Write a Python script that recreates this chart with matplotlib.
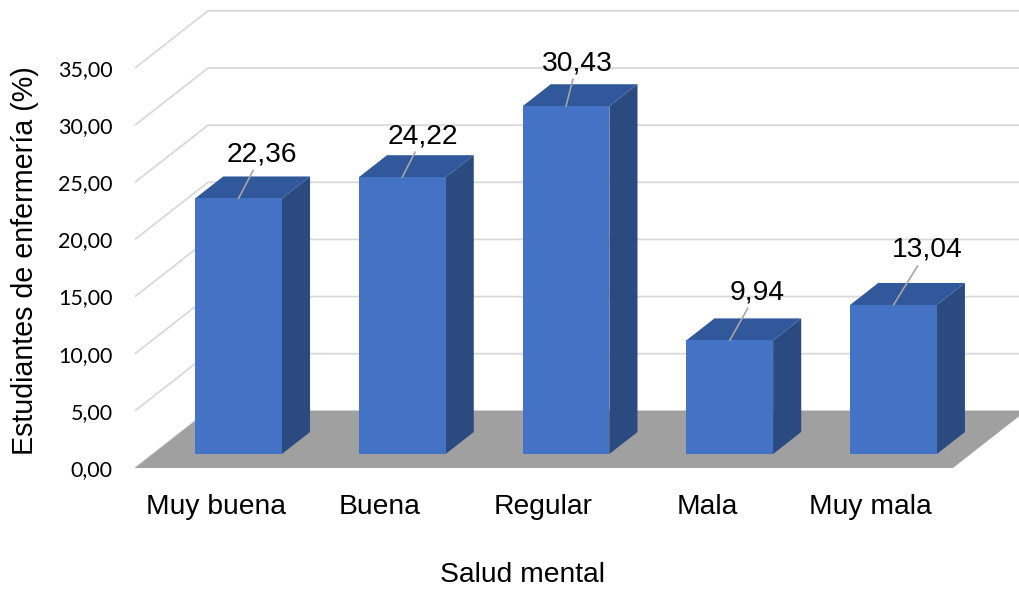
import matplotlib
matplotlib.use("Agg")
import matplotlib.pyplot as plt
from matplotlib.patches import Polygon, Rectangle
import numpy as np

# data
categories = ["Muy buena", "Buena", "Regular", "Mala", "Muy mala"]
values = [22.36, 24.22, 30.43, 9.94, 13.04]
yticks = [0, 5, 10, 15, 20, 25, 30, 35]

# where excel put each data label, pixels from the top of the front face
label_offsets = [(23, 44), (21, 41), (11, 43), (27, 48), (34, 55)]

FRONT = "#4472C4"
TOP = "#30589A"
SIDE = "#2A4A80"
FLOOR = "#A0A0A0"
GRID = "#D9D9D9"

# depth of the 3d box, in data units (x in categories, y in values)
DX = 0.446
DY = 5.0
d0, d1 = 0.245, 0.63   # bar front / back depth fraction
width = 0.53

fig = plt.figure(figsize=(10.19, 5.89), dpi=100)
ax = fig.add_axes([135 / 1019, (589 - 468) / 589, 818 / 1019, 400 / 589])
ax.set_xlim(-0.523, 4.473)
ax.set_ylim(0, 35)
for s in ax.spines.values():
    s.set_visible(False)
ax.tick_params(length=0)

x0, x1 = ax.get_xlim()

# gridlines: side wall diagonal + back wall horizontal
for v in yticks:
    ax.plot([x0, x0 + DX, 6], [v, v + DY, v + DY], color=GRID, lw=1.3,
            zorder=0.5, clip_on=False, solid_capstyle="butt")

# floor
ax.add_patch(Polygon([(x0, 0), (x1, 0), (x1 + DX, DY), (x0 + DX, DY)],
                     closed=True, fc=FLOOR, ec="none", zorder=1, clip_on=False))

# bars
for i, v in enumerate(values):
    xl = i - width / 2 + d0 * DX
    xr = i + width / 2 + d0 * DX
    base = d0 * DY
    top = v + base
    ddx = (d1 - d0) * DX
    ddy = (d1 - d0) * DY
    ax.add_patch(Polygon([(xr, base), (xr, top), (xr + ddx, top + ddy), (xr + ddx, base + ddy)],
                         closed=True, fc=SIDE, ec="none", zorder=2, clip_on=False))
    ax.add_patch(Polygon([(xl, top), (xr, top), (xr + ddx, top + ddy), (xl + ddx, top + ddy)],
                         closed=True, fc=TOP, ec="none", zorder=2, clip_on=False))
    ax.add_patch(Rectangle((xl, base), xr - xl, v, fc=FRONT, ec="none", zorder=3, clip_on=False))
    ax.annotate(f"{v:.2f}".replace(".", ","), xy=(i + d0 * DX, top),
                xytext=label_offsets[i], textcoords="offset pixels",
                ha="center", va="center", fontsize=20.3, family="Liberation Sans",
                arrowprops=dict(arrowstyle="-", color="#A6A6A6", lw=1.2,
                                shrinkA=0, shrinkB=0),
                zorder=5)

ax.set_yticks(yticks)
ax.set_yticklabels([f"{t:.2f}".replace(".", ",") for t in yticks],
                   family="Lato", fontsize=15.5)
ax.tick_params(axis="y", pad=16)
# category labels sit a touch left of the bar centres
ax.set_xticks([i - 0.03 for i in range(len(categories))])
ax.set_xticklabels(categories, family="Liberation Sans", fontsize=20.3)
ax.tick_params(axis="x", pad=19)

fig.text(522 / 1019, 1 - 575 / 589, "Salud mental", ha="center", va="center",
         fontsize=20.3, family="Liberation Sans")
fig.text(25 / 1019, 1 - 261 / 589, "Estudiantes de enfermería (%)", rotation=90,
         ha="center", va="center", fontsize=20.6, family="Liberation Sans")

fig.savefig("out.png", dpi=100)
